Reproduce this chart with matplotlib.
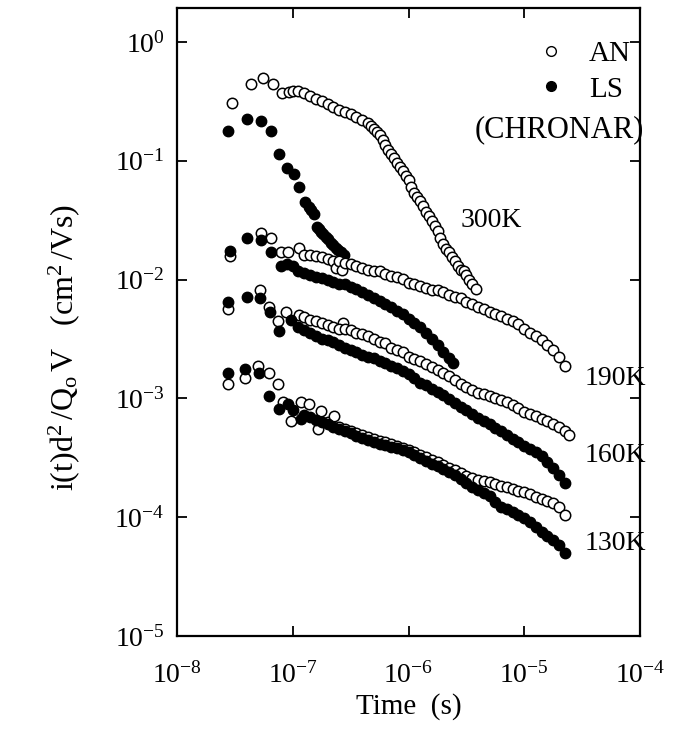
import matplotlib
matplotlib.use("Agg")
import matplotlib.pyplot as plt
from matplotlib.lines import Line2D

plt.rcParams['font.family'] = 'Liberation Serif'
plt.rcParams['mathtext.fontset'] = 'custom'
plt.rcParams['mathtext.rm'] = 'Liberation Serif'
plt.rcParams['mathtext.it'] = 'Liberation Serif:italic'

# ---- 300K ----
t_an_300 = [3.0e-8, 4.32e-8, 5.49e-8, 6.70e-8, 8.0e-8, 9.23e-8,
            1.00e-7, 1.12e-7, 1.26e-7, 1.41e-7, 1.58e-7, 1.78e-7, 2.00e-7, 2.24e-7, 2.51e-7, 2.82e-7,
            3.16e-7, 3.55e-7, 3.98e-7, 4.47e-7, 4.73e-7, 5.01e-7, 5.31e-7, 5.62e-7, 5.96e-7, 6.31e-7,
            6.68e-7, 7.08e-7, 7.50e-7, 7.94e-7, 8.41e-7, 8.91e-7, 9.44e-7,
            1.00e-6, 1.06e-6, 1.12e-6, 1.19e-6, 1.26e-6, 1.33e-6, 1.41e-6, 1.50e-6, 1.58e-6, 1.68e-6,
            1.78e-6, 1.88e-6, 2.00e-6, 2.11e-6, 2.24e-6, 2.37e-6, 2.51e-6, 2.66e-6, 2.82e-6, 2.99e-6,
            3.16e-6, 3.35e-6, 3.55e-6, 3.80e-6]
i_an_300 = [0.307, 0.444, 0.50, 0.444, 0.373, 0.38,
            0.387, 0.387, 0.373, 0.351, 0.332, 0.319, 0.301, 0.284, 0.268, 0.258,
            0.248, 0.234, 0.222, 0.209, 0.197, 0.186, 0.175, 0.165, 0.150, 0.136,
            0.124, 0.114, 0.106, 0.096, 0.089, 0.0824, 0.0748,
            0.0692, 0.0605, 0.0538, 0.0498, 0.0461, 0.0419, 0.0373, 0.0345, 0.0313, 0.0284,
            0.0258, 0.0225, 0.0200, 0.0182, 0.0169, 0.0156, 0.0142, 0.0131, 0.0121, 0.0117,
            0.0110, 0.0100, 0.00925, 0.0083]

t_ls_300 = [2.77e-8, 4.06e-8, 5.27e-8, 6.44e-8, 7.55e-8, 8.87e-8, 1.02e-7, 1.13e-7, 1.27e-7, 1.38e-7,
            1.44e-7, 1.52e-7, 1.62e-7, 1.68e-7, 1.75e-7, 1.82e-7, 1.94e-7, 2.01e-7, 2.14e-7, 2.23e-7,
            2.36e-7, 2.46e-7, 2.61e-7, 2.78e-7]
i_ls_300 = [0.179, 0.225, 0.217, 0.179, 0.1145, 0.0873, 0.0778, 0.0605, 0.0452, 0.0411,
            0.0387, 0.0358, 0.0279, 0.0268, 0.0253, 0.0243, 0.0230, 0.0221, 0.0205, 0.0197,
            0.0186, 0.0179, 0.0169, 0.0162]

# ---- 190K ----
t_an_190 = [2.89e-8, 5.27e-8, 6.44e-8, 7.87e-8, 9.05e-8, 1.13e-7,
            1.26e-7, 1.41e-7, 1.58e-7, 1.78e-7, 2.00e-7, 2.24e-7, 2.35e-7, 2.51e-7, 2.65e-7, 2.82e-7,
            3.16e-7, 3.55e-7, 3.98e-7, 4.47e-7, 5.01e-7, 5.62e-7, 6.31e-7, 7.08e-7, 7.94e-7, 8.91e-7,
            1.00e-6, 1.12e-6, 1.26e-6, 1.41e-6, 1.58e-6, 1.78e-6, 2.00e-6, 2.24e-6, 2.51e-6, 2.82e-6,
            3.16e-6, 3.55e-6, 3.98e-6, 4.47e-6, 5.01e-6, 5.62e-6, 6.31e-6, 7.08e-6, 7.94e-6, 8.91e-6,
            1.00e-5, 1.12e-5, 1.26e-5, 1.41e-5, 1.58e-5, 1.78e-5, 2.00e-5, 2.24e-5]
i_an_190 = [0.0159, 0.0248, 0.0225, 0.0169, 0.0169, 0.0186,
            0.0162, 0.0162, 0.0159, 0.0156, 0.0150, 0.0144, 0.0125, 0.0142, 0.0120, 0.0139,
            0.0136, 0.0131, 0.0126, 0.0121, 0.0119, 0.0117, 0.0112, 0.0108, 0.0106, 0.0102,
            0.00944, 0.00925, 0.0089, 0.00857, 0.00824, 0.0081, 0.0078, 0.00748, 0.0072, 0.00706,
            0.00653, 0.00617, 0.00582, 0.0056, 0.00538, 0.00518, 0.00489, 0.0047, 0.00444, 0.00419,
            0.00387, 0.00358, 0.00332, 0.00307, 0.00279, 0.00253, 0.00222, 0.00189]

t_ls_190 = [2.89e-8, 4.06e-8, 5.27e-8, 6.44e-8, 7.87e-8, 8.87e-8,
            1.00e-7, 1.12e-7, 1.26e-7, 1.41e-7, 1.58e-7, 1.78e-7, 2.00e-7, 2.24e-7, 2.51e-7, 2.82e-7,
            3.16e-7, 3.55e-7, 3.98e-7, 4.47e-7, 5.01e-7, 5.62e-7, 6.31e-7, 7.08e-7, 7.94e-7, 8.91e-7,
            1.00e-6, 1.12e-6, 1.26e-6, 1.41e-6, 1.58e-6, 1.78e-6, 2.00e-6, 2.24e-6, 2.40e-6]
i_ls_190 = [0.0175, 0.0225, 0.0217, 0.0169, 0.0131, 0.0136,
            0.0131, 0.0119, 0.0114, 0.0110, 0.0106, 0.0104, 0.0100, 0.0096, 0.00925, 0.0091,
            0.00873, 0.0084, 0.00793, 0.00748, 0.00706, 0.00666, 0.00628, 0.00593, 0.00549, 0.00518,
            0.0047, 0.00435, 0.00395, 0.00352, 0.00313, 0.00279, 0.00244, 0.00217, 0.0020]

# ---- 160K ----
t_an_160 = [2.77e-8, 5.16e-8, 6.19e-8, 7.41e-8, 8.69e-8, 1.13e-7, 2.72e-7,
            1.26e-7, 1.41e-7, 1.58e-7, 1.78e-7, 2.00e-7, 2.24e-7, 2.51e-7, 2.82e-7,
            3.16e-7, 3.55e-7, 3.98e-7, 4.47e-7, 5.01e-7, 5.62e-7, 6.31e-7, 7.08e-7, 7.94e-7, 8.91e-7,
            1.00e-6, 1.12e-6, 1.26e-6, 1.41e-6, 1.58e-6, 1.78e-6, 2.00e-6, 2.24e-6, 2.51e-6, 2.82e-6,
            3.16e-6, 3.55e-6, 3.98e-6, 4.47e-6, 5.01e-6, 5.62e-6, 6.31e-6, 7.08e-6, 7.94e-6, 8.91e-6,
            1.00e-5, 1.12e-5, 1.26e-5, 1.41e-5, 1.58e-5, 1.78e-5, 2.00e-5, 2.24e-5, 2.42e-5]
i_an_160 = [0.0057, 0.00824, 0.00593, 0.00444, 0.00538, 0.00508, 0.00435,
            0.0048, 0.00461, 0.00444, 0.00427, 0.00411, 0.00395, 0.00387, 0.0038,
            0.00373, 0.00358, 0.00345, 0.00332, 0.00313, 0.00301, 0.0029, 0.00268, 0.00253, 0.00244,
            0.00225, 0.00213, 0.00205, 0.00193, 0.00182, 0.00172, 0.00162, 0.00153, 0.00142, 0.00131,
            0.00124, 0.00117, 0.00112, 0.00108, 0.00104, 0.00100, 9.6e-4, 9.25e-4, 8.73e-4, 8.24e-4,
            7.63e-4, 7.34e-4, 7.06e-4, 6.66e-4, 6.4e-4, 6.05e-4, 5.7e-4, 5.28e-4, 4.89e-4]

t_ls_160 = [2.77e-8, 4.06e-8, 5.16e-8, 6.31e-8, 7.55e-8, 9.6e-8,
            1.12e-7, 1.26e-7, 1.41e-7, 1.58e-7, 1.78e-7, 2.00e-7, 2.24e-7, 2.51e-7, 2.82e-7,
            3.16e-7, 3.55e-7, 3.98e-7, 4.47e-7, 5.01e-7, 5.62e-7, 6.31e-7, 7.08e-7, 7.94e-7, 8.91e-7,
            1.00e-6, 1.12e-6, 1.26e-6, 1.41e-6, 1.58e-6, 1.78e-6, 2.00e-6, 2.24e-6, 2.51e-6, 2.82e-6,
            3.16e-6, 3.55e-6, 3.98e-6, 4.47e-6, 5.01e-6, 5.62e-6, 6.31e-6, 7.08e-6, 7.94e-6, 8.91e-6,
            1.00e-5, 1.12e-5, 1.26e-5, 1.41e-5, 1.58e-5, 1.78e-5, 2.00e-5, 2.24e-5]
i_ls_160 = [0.00653, 0.0072, 0.00706, 0.00538, 0.00366, 0.00461,
            0.00395, 0.00373, 0.00352, 0.00332, 0.00319, 0.00307, 0.00296, 0.00279, 0.00268,
            0.00253, 0.00244, 0.00234, 0.00225, 0.00217, 0.00205, 0.00197, 0.00186, 0.00179, 0.00169,
            0.00159, 0.00147, 0.00136, 0.00129, 0.00121, 0.00114, 0.00106, 9.8e-4, 9.1e-4, 8.4e-4,
            7.93e-4, 7.34e-4, 6.79e-4, 6.4e-4, 6.05e-4, 5.6e-4, 5.28e-4, 4.89e-4, 4.52e-4, 4.27e-4,
            3.95e-4, 3.73e-4, 3.52e-4, 3.26e-4, 2.9e-4, 2.58e-4, 2.25e-4, 1.93e-4]

# ---- 130K ----
t_an_130 = [2.77e-8, 3.90e-8, 4.96e-8, 6.19e-8, 7.41e-8, 8.19e-8, 9.6e-8, 1.17e-7, 1.38e-7,
            1.65e-7, 1.75e-7, 2.00e-7, 2.27e-7,
            2.51e-7, 2.82e-7, 3.16e-7, 3.55e-7, 3.98e-7, 4.47e-7, 5.01e-7, 5.62e-7, 6.31e-7, 7.08e-7,
            7.94e-7, 8.91e-7, 1.00e-6, 1.12e-6, 1.26e-6, 1.41e-6, 1.58e-6, 1.78e-6, 2.00e-6, 2.24e-6,
            2.51e-6, 2.82e-6, 3.16e-6, 3.55e-6, 3.98e-6, 4.47e-6, 5.01e-6, 5.62e-6, 6.31e-6, 7.08e-6,
            7.94e-6, 8.91e-6, 1.00e-5, 1.12e-5, 1.26e-5, 1.41e-5, 1.58e-5, 1.78e-5, 2.00e-5, 2.24e-5]
i_an_130 = [0.00131, 0.00147, 0.00186, 0.00165, 0.00131, 9.25e-4, 6.4e-4, 9.25e-4, 8.9e-4,
            5.49e-4, 7.78e-4, 6.28e-4, 7.06e-4,
            5.7e-4, 5.49e-4, 5.28e-4, 5.08e-4, 4.89e-4, 4.7e-4, 4.52e-4, 4.35e-4, 4.27e-4, 4.11e-4,
            3.95e-4, 3.80e-4, 3.66e-4, 3.52e-4, 3.32e-4, 3.19e-4, 3.01e-4, 2.90e-4, 2.73e-4, 2.58e-4,
            2.48e-4, 2.34e-4, 2.22e-4, 2.13e-4, 2.05e-4, 2.0e-4, 1.97e-4, 1.89e-4, 1.82e-4, 1.79e-4,
            1.72e-4, 1.65e-4, 1.62e-4, 1.56e-4, 1.47e-4, 1.42e-4, 1.38e-4, 1.32e-4, 1.22e-4, 1.04e-4]

t_ls_130 = [2.77e-8, 3.90e-8, 5.06e-8, 6.19e-8, 7.55e-8, 9.05e-8, 1.00e-7, 1.17e-7,
            1.26e-7, 1.41e-7, 1.58e-7, 1.78e-7, 2.00e-7, 2.24e-7, 2.51e-7, 2.82e-7,
            3.16e-7, 3.55e-7, 3.98e-7, 4.47e-7, 5.01e-7, 5.62e-7, 6.31e-7, 7.08e-7, 7.94e-7, 8.91e-7,
            1.00e-6, 1.12e-6, 1.26e-6, 1.41e-6, 1.58e-6, 1.78e-6, 2.00e-6, 2.24e-6, 2.51e-6, 2.82e-6,
            3.16e-6, 3.55e-6, 3.98e-6, 4.47e-6, 5.01e-6, 5.62e-6, 6.31e-6, 7.08e-6, 7.94e-6, 8.91e-6,
            1.00e-5, 1.12e-5, 1.26e-5, 1.41e-5, 1.58e-5, 1.78e-5, 2.00e-5, 2.24e-5]
i_ls_130 = [0.00162, 0.00175, 0.00162, 0.00104, 8.1e-4, 8.9e-4, 8.0e-4, 6.66e-4,
            7.2e-4, 6.92e-4, 6.53e-4, 6.28e-4, 6.05e-4, 5.7e-4, 5.49e-4, 5.28e-4,
            5.08e-4, 4.8e-4, 4.61e-4, 4.44e-4, 4.27e-4, 4.11e-4, 4.03e-4, 3.87e-4, 3.80e-4, 3.66e-4,
            3.52e-4, 3.32e-4, 3.13e-4, 2.96e-4, 2.79e-4, 2.68e-4, 2.53e-4, 2.39e-4, 2.25e-4, 2.09e-4,
            1.93e-4, 1.79e-4, 1.69e-4, 1.59e-4, 1.50e-4, 1.34e-4, 1.21e-4, 1.17e-4, 1.10e-4, 1.04e-4,
            9.8e-5, 9.1e-5, 8.24e-5, 7.48e-5, 6.92e-5, 6.4e-5, 5.82e-5, 4.98e-5]

temps = ['300K', '190K', '160K', '130K']
an_sets = [(t_an_300, i_an_300), (t_an_190, i_an_190), (t_an_160, i_an_160), (t_an_130, i_an_130)]
ls_sets = [(t_ls_300, i_ls_300), (t_ls_190, i_ls_190), (t_ls_160, i_ls_160), (t_ls_130, i_ls_130)]

fig = plt.figure(figsize=(6.88, 7.44), dpi=100)
ax = fig.add_axes([0.2573, 0.1452, 0.6730, 0.8440])

ms = 7.5
for (ta, ia), (tl, il) in zip(an_sets, ls_sets):
    ax.plot(ta, ia, ls='none', marker='o', ms=ms, mfc='white', mec='black', mew=1.1)
    ax.plot(tl, il, ls='none', marker='o', ms=ms, mfc='black', mec='black', mew=1.0)

ax.set_xscale('log')
ax.set_yscale('log')
ax.set_xlim(1e-8, 1e-4)
ax.set_ylim(1e-5, 1.93)
ax.minorticks_off()
ax.set_xticks([1e-8, 1e-7, 1e-6, 1e-5, 1e-4])
ax.set_yticks([1e-5, 1e-4, 1e-3, 1e-2, 1e-1, 1e0])
ax.tick_params(direction='in', length=7, width=1.3, top=True, right=True, labelsize=20)
ax.tick_params(axis='x', pad=19)
ax.tick_params(axis='y', pad=9)
for s in ax.spines.values():
    s.set_linewidth(1.6)

ax.set_xlabel('Time  (s)', fontsize=21, labelpad=3)
ax.set_ylabel(r'$\mathrm{i(t)d^2\,/Q_o\,V\ \ \ (cm^2\,/Vs)}$', fontsize=23)
ax.yaxis.set_label_coords(-0.205, 0.46)

# temperature labels
ax.text(0.678, 0.651, temps[0], transform=ax.transAxes, ha='center', va='baseline', fontsize=20)
ax.text(0.880, 0.400, temps[1], transform=ax.transAxes, ha='left', va='baseline', fontsize=20)
ax.text(0.880, 0.277, temps[2], transform=ax.transAxes, ha='left', va='baseline', fontsize=20)
ax.text(0.880, 0.137, temps[3], transform=ax.transAxes, ha='left', va='baseline', fontsize=20)
ax.text(0.826, 0.795, '(CHRONAR)', transform=ax.transAxes, ha='center', va='baseline', fontsize=22)

handles = [Line2D([], [], ls='none', marker='o', ms=7, mfc='white', mec='black', mew=1.0),
           Line2D([], [], ls='none', marker='o', ms=7, mfc='black', mec='black')]
ax.legend(handles, ['AN', 'LS'], loc='upper left', bbox_to_anchor=(0.780, 0.945),
          bbox_transform=fig.transFigure, frameon=False, fontsize=21, handlelength=1.0,
          handletextpad=0.8, labelspacing=0.3, borderpad=0, borderaxespad=0)

fig.savefig('out.png', dpi=100)
